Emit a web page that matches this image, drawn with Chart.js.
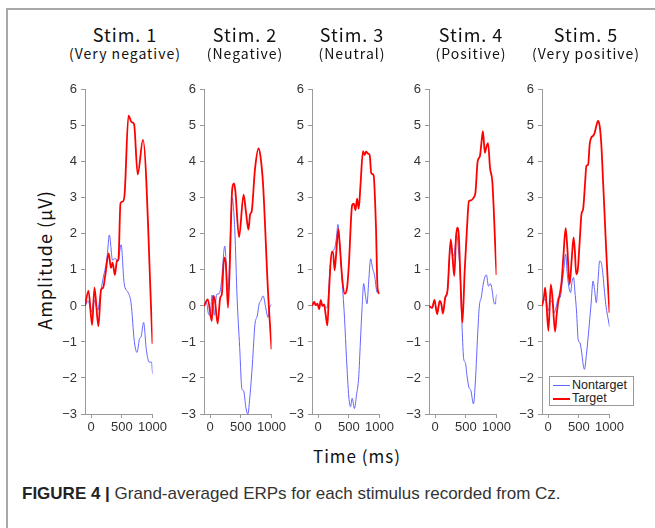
<!DOCTYPE html>
<html>
<head>
<meta charset="utf-8">
<script src="https://cdn.jsdelivr.net/npm/chart.js@4.4.1/dist/chart.umd.min.js"></script>
<style>
  body { margin: 0; background: #fff; width: 655px; height: 528px; overflow: hidden; position: relative;
         font-family: "Liberation Sans", Arial, sans-serif; }
  #frame { position: absolute; left: 6px; top: 8px; right: -4px; bottom: -4px;
           border-top: 2px solid #a8a8a8; border-left: 2px solid #a8a8a8; }
  canvas { position: absolute; }
  .ttl { position: absolute; transform: translate(-50%, -50%); white-space: nowrap; color: #111;
         font-family: "Noto Sans CJK JP", "Noto Sans", sans-serif; letter-spacing: 1px; }
  .stim { font-size: 18px; }
  .sub { font-size: 14px; }
  #ylab { position: absolute; left: 44px; top: 260px; transform: translate(-50%, -50%) rotate(-90deg);
          font-size: 18px; color: #111; white-space: nowrap; font-family: "Noto Sans CJK JP", sans-serif; letter-spacing: 1px; }
  #xlab { position: absolute; left: 357px; top: 455px; transform: translate(-50%, -50%);
          font-size: 17px; color: #111; white-space: nowrap; font-family: "Noto Sans CJK JP", sans-serif; letter-spacing: 1px; }
  #cap { position: absolute; left: 22px; top: 494px; transform: translateY(-50%); font-size: 17px; color: #333; white-space: nowrap; }
  #cap b { color: #222; }
  #legend { position: absolute; left: 549px; top: 376px; width: 83px; height: 28px; border: 1px solid #999;
            background: #fff; font-size: 12.5px; color: #222; }
  #legend div { position: absolute; left: 3px; height: 14px; line-height: 14px; }
  #legend span { display: inline-block; width: 17px; vertical-align: middle; margin-right: 2px; }
</style>
</head>
<body>
<div id="frame"></div>
<div id="ylab">Amplitude (μV)</div>
<div id="xlab">Time (ms)</div>
<div id="cap"><b>FIGURE 4 |</b> Grand-averaged ERPs for each stimulus recorded from Cz.</div>
<div id="legend">
  <div style="top:1px"><span style="border-top:1px solid rgb(100,100,255)"></span>Nontarget</div>
  <div style="top:14px"><span style="border-top:2px solid #ff0000"></span>Target</div>
</div>
<script>
const stimTitles = ['Stim. 1', 'Stim. 2', 'Stim. 3', 'Stim. 4', 'Stim. 5'];
const stimSubs = ['(Very negative)', '(Negative)', '(Neutral)', '(Positive)', '(Very positive)'];
const xTicks = [0, 500, 1000];

// Stim 1
const t1Target = [-100, -43, 16, 54, 118, 161, 194, 231, 285, 323, 349, 387, 420, 445, 478, 515, 545, 608, 661, 699, 758, 844, 1000];
const v1Target = [0, 0.42, -0.53, 0.51, -0.56, 0.45, 0.5, 0.86, 1.46, 1.06, 1.2, 0.86, 1.25, 1.3, 2.85, 2.9, 3.1, 5.28, 5.1, 5.05, 3.65, 4.61, -1.05];
const t1Non = [-100, -48, 5, 48, 81, 108, 140, 167, 199, 231, 263, 296, 349, 392, 435, 489, 538, 600, 650, 704, 747, 790, 812, 855, 898, 946, 984, 1000];
const v1Non = [0, 0.14, -0.17, 0.16, 0, -0.12, 0.2, 0.5, 0.8, 1.05, 1.42, 1.97, 1.27, 1.32, 1.23, 1.7, 0.62, 0.38, 0.08, -0.99, -1.29, -0.9, -0.86, -0.46, -1.2, -1.56, -1.56, -1.88];

// Stim 2
const t2Target = [-100, -37, 26, 53, 79, 122, 164, 190, 228, 254, 291, 360, 388, 410, 471, 545, 582, 624, 651, 677, 730, 788, 820, 862, 942, 1000];
const v2Target = [0, 0.18, -0.42, 0.28, 0.14, -0.49, 0.23, 0.32, 1.34, 1.2, -0.05, 3.25, 3.4, 3.2, 1.91, 3.09, 2.63, 2.12, 2.54, 2.63, 3.79, 4.37, 4.15, 3.37, 0.42, -1.2];
const t2Non = [-100, -60, -26, 0, 32, 69, 106, 148, 185, 238, 290, 360, 402, 439, 481, 518, 545, 582, 614, 651, 688, 730, 767, 799, 825, 862, 915, 942, 968, 1000];
const v2Non = [0, 0.1, -0.23, -0.26, 0.3, -0.26, 0.32, 0.34, 0.69, 1.66, 0.4, 3.0, 2.08, 0.23, -1.15, -2.31, -2.35, -2.82, -3.0, -2.45, -1.62, -0.51, -0.28, 0.06, 0.14, 0.28, -0.14, -0.32, -0.05, 0.05];

// Stim 3
const t3Target = [-100, -65, -38, -11, 16, 43, 70, 97, 124, 151, 177, 220, 242, 269, 296, 328, 349, 392, 435, 473, 500, 554, 581, 608, 634, 661, 688, 731, 758, 780, 812, 839, 866, 903, 941, 968, 1000];
const v3Target = [0, 0.11, 0.02, 0.06, -0.09, 0.16, 0, 0.04, -0.26, -0.54, 0.39, 1.5, 1.5, 0.99, 1.5, 2.13, 1.78, 0.76, 0.34, 0.53, 1.13, 2.8, 2.84, 2.66, 2.98, 2.7, 3.31, 4.3, 4.19, 4.28, 4.23, 4.19, 3.68, 3.63, 2.24, 0.48, 0.34];
const t3Non = [-100, -65, -38, -11, 16, 43, 70, 97, 124, 151, 167, 194, 231, 269, 296, 323, 349, 392, 430, 462, 500, 527, 554, 591, 624, 661, 688, 715, 742, 769, 796, 823, 855, 887, 919, 957, 1000];
const v3Non = [0, 0.11, 0.02, 0.06, -0.09, 0.16, 0, 0.04, -0.05, -0.04, 0.3, 1.04, 1.5, 1.59, 1.87, 2.26, 1.78, 0.67, -0.35, -1.46, -2.53, -2.8, -2.56, -2.85, -2.48, -1.97, -1.0, -0.07, 0.62, 0.3, 0.06, 0.67, 1.31, 1.04, 0.85, 0.39, 0.34];

// Stim 4
const t4Target = [-100, -48, -11, 32, 74, 101, 127, 164, 201, 254, 280, 312, 339, 360, 386, 413, 444, 481, 519, 550, 587, 624, 656, 693, 730, 751, 778, 810, 831, 862, 894, 931, 958, 984, 1000];
const v4Target = [0, -0.05, 0.17, -0.23, 0.14, 0.05, -0.21, 0.23, 0.42, 1.85, 1.43, 0.83, 1.89, 2.17, 1.94, 0.69, -0.46, 0.97, 2.17, 2.91, 2.93, 3.0, 3.14, 4.02, 4.16, 4.48, 4.85, 4.25, 4.39, 4.52, 3.83, 3.46, 2.54, 1.43, 0.86];
const t4Non = [-100, -48, -11, 32, 74, 101, 127, 164, 201, 254, 286, 312, 349, 386, 413, 439, 466, 492, 519, 550, 582, 624, 656, 693, 720, 751, 783, 815, 836, 868, 899, 921, 958, 979, 1000];
const v4Non = [0, -0.05, 0.15, -0.2, 0.12, 0.05, -0.18, 0.2, 0.4, 1.71, 1.39, 1.43, 1.99, 1.43, 0.69, -0.6, -1.48, -1.57, -1.94, -2.26, -2.35, -2.72, -2.08, -0.78, 0, 0.23, 0.6, 0.83, 0.86, 0.55, 0.62, 0.51, 0.09, 0.05, 0.32];

// Stim 5
const t5Target = [-100, -70, -48, -27, 5, 43, 70, 113, 140, 167, 194, 220, 247, 285, 312, 349, 382, 414, 435, 457, 484, 511, 543, 570, 597, 624, 651, 677, 704, 731, 758, 785, 812, 839, 866, 892, 919, 946, 973, 1000];
const v5Target = [0, 0.23, 0.51, 0.05, -0.69, 0.6, 0.23, -0.71, -0.23, 0.14, 0.37, 0.69, 1.34, 2.16, 1.62, 0.6, 1.25, 1.9, 1.53, 0.88, 1.02, 1.71, 2.55, 2.69, 3.29, 3.89, 3.92, 4.49, 4.68, 4.72, 4.81, 5.0, 5.14, 5.0, 4.49, 3.56, 2.55, 1.53, 0.6, -0.19];
const t5Non = [-100, -54, -27, 5, 43, 70, 102, 134, 167, 194, 231, 258, 285, 312, 339, 366, 387, 414, 435, 462, 489, 516, 543, 570, 591, 624, 661, 699, 731, 758, 785, 812, 839, 866, 892, 919, 946, 973, 1000];
const v5Non = [0, 0.19, 0.09, -0.14, 0.14, 0.09, -0.19, 0, 0.23, 0.23, 0.69, 1.06, 1.44, 0.88, 0.51, 0.37, 0.65, 0.79, 0.42, -0.14, -0.93, -1.02, -1.25, -1.62, -1.76, -1.34, -0.69, 0.05, 0.69, 0.42, 0.09, 0.69, 1.25, 1.2, 0.88, 0.37, -0.05, -0.32, -0.58];

const targets = [[t1Target, v1Target], [t2Target, v2Target], [t3Target, v3Target], [t4Target, v4Target], [t5Target, v5Target]];
const nontargets = [[t1Non, v1Non], [t2Non, v2Non], [t3Non, v3Non], [t4Non, v4Non], [t5Non, v5Non]];

// layout
const axisX = [85, 204, 312, 429, 542];
const titleX = [125, 245, 352, 471, 586];
const yAxW = 36, plotW = 68, padR = 16, padT = 10, plotH = 326, xAxH = 28;

const zip = (t, v) => t.map((x, i) => ({x: x, y: v[i]}));
const tickFont = {family: '"Liberation Sans", Arial, sans-serif', size: 13};
const axisCol = '#9a9a9a';

for (let i = 0; i < 5; i++) {
  const tt = document.createElement('div');
  tt.className = 'ttl stim';
  tt.style.left = titleX[i] + 'px'; tt.style.top = '34px';
  tt.textContent = stimTitles[i];
  document.body.appendChild(tt);
  const st = document.createElement('div');
  st.className = 'ttl sub';
  st.style.left = titleX[i] + 'px'; st.style.top = '53px';
  st.textContent = stimSubs[i];
  document.body.appendChild(st);

  const cv = document.createElement('canvas');
  cv.width = yAxW + plotW + padR;
  cv.height = padT + plotH + xAxH;
  cv.style.left = (axisX[i] - yAxW) + 'px';
  cv.style.top = (88 - padT) + 'px';
  document.body.insertBefore(cv, document.getElementById('legend'));

  new Chart(cv, {
    type: 'line',
    data: {
      datasets: [{
        label: 'Target',
        data: zip(targets[i][0], targets[i][1]),
        borderColor: '#ff0000',
        borderWidth: 1.8,
        order: 0
      }, {
        label: 'Nontarget',
        data: zip(nontargets[i][0], nontargets[i][1]),
        borderColor: 'rgb(100,100,255)',
        borderWidth: 1,
        order: 1
      }]
    },
    options: {
      responsive: false,
      animation: false,
      devicePixelRatio: 1,
      layout: {padding: {top: padT, right: padR, left: 0, bottom: 0}},
      elements: {point: {radius: 0}, line: {cubicInterpolationMode: 'monotone'}},
      plugins: {legend: {display: false}, tooltip: {enabled: false}},
      scales: {
        x: {
          type: 'linear', min: -100, max: 1000,
          afterBuildTicks: s => { s.ticks = xTicks.map(v => ({value: v})); },
          afterFit: s => { s.height = xAxH; },
          grid: {drawOnChartArea: false, drawTicks: true, tickLength: 4, color: axisCol},
          border: {color: axisCol},
          ticks: {color: '#333', font: tickFont, padding: 2, maxRotation: 0, autoSkip: false,
                  callback: v => String(v)}
        },
        y: {
          min: -3, max: 6,
          afterFit: s => { s.width = yAxW; },
          grid: {drawOnChartArea: false, drawTicks: true, tickLength: 4, color: axisCol},
          border: {color: axisCol},
          ticks: {stepSize: 1, color: '#333', font: tickFont, padding: 4,
                  callback: v => v < 0 ? '\u2212' + Math.abs(v) : String(v)}
        }
      }
    }
  });
}
</script>
</body>
</html>
